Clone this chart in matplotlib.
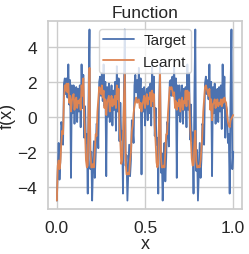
import numpy as np
import matplotlib
matplotlib.use("Agg")
import matplotlib.pyplot as plt
import seaborn as sns

# sampling grid of the function
x = np.linspace(0.0, 1.0, 201)

target_p1 = [-4.8, -3.0, -1.5, -3.6, -2.4, -0.3, -0.6, -1.6, 1.9, 2.2,
             1.3, 2.2, 1.1, 3.0, 0.7, 2.1, -3.5, 1.8, 0.2, 1.8,
             -0.4, 1.2, 1.7, -0.3, 1.6, 0.3, 1.8, -0.6, 3.0, 0.5,
             2.4, -1.2, 0.6, -1.5, -1.0, -4.4, 1.5, 5.0, -3.0, -2.0]
target_p2 = [-4.8, -2.8, -1.4, -3.5, -2.2, -0.4, -0.5, -1.8, 2.0, 2.3,
             1.2, 2.5, 0.9, 3.0, 0.6, 2.0, -3.4, 1.7, 0.0, 1.9,
             -0.3, 1.0, 1.8, -0.5, 1.5, 0.4, 2.0, -0.8, 2.9, 0.3,
             2.2, -1.4, 0.8, -1.3, -0.8, -4.4, 1.2, 5.0, -2.8, -2.2]
target_p3 = [-4.8, -3.2, -1.6, -3.4, -2.5, -0.2, -0.7, -1.5, 1.8, 2.4,
             1.4, 2.1, 1.0, 2.8, 0.8, 2.2, -3.3, 1.6, 0.3, 1.7,
             -0.5, 1.3, 1.6, -0.2, 1.7, 0.2, 1.9, -0.5, 3.0, 0.6,
             2.3, -1.1, 0.5, -1.6, -1.2, -4.4, 0.8, 3.0, -3.2, -2.1]
target_p4 = [-4.8, -2.9, -1.5, -3.7, -2.3, -0.3, -0.5, -1.7, 2.0, 2.1,
             1.2, 2.3, 1.2, 2.9, 0.6, 2.2, -3.5, 1.8, 0.1, 1.8,
             -0.3, 1.1, 1.8, -0.4, 1.6, 0.4, 1.7, -0.6, 3.0, 0.4,
             2.5, -1.3, 0.7, -1.4, -0.9, -4.4, 1.4, 5.0, -3.1, -1.9]
target_p5 = [-4.8, -3.1, -1.5, -3.5, -2.4, -0.4, -0.6, -1.6, 1.9, 2.3,
             1.3, 2.1, 1.0, 3.0, 0.7, 2.0, -3.4, 1.7, 0.2, 1.9,
             -0.4, 1.2, 1.6, -0.3, 1.7, 0.3, 1.8, -0.7, 3.0, 0.5,
             2.3, -1.2, 0.6, 0.4, -1.5, -1.0, -4.4, 1.5, 5.0, -3.0,
             -2.0]

learnt_p1 = [-4.8, -2.8, -2.5, -3.0, -2.6, -1.5, -0.8, -1.0, 1.0, 1.8,
             1.5, 1.9, 1.4, 1.9, 0.8, 1.2, 0.3, 0.9, 1.2, 1.3,
             0.4, 0.9, 1.1, 0.5, 0.9, 0.8, 1.0, 0.4, 1.8, 1.2,
             2.2, 0.0, -1.0, -2.5, -2.9, -2.8, 0.5, 2.8, -2.0, -2.9]
learnt_p2 = [-2.9, -2.7, -2.9, -2.0, -1.0, -1.1, 0.3, 1.0, 1.7, 1.6,
             1.3, 1.8, 1.1, 1.5, 0.5, 1.0, 0.1, 0.8, 1.0, 1.2,
             0.3, 0.8, 1.2, 0.6, 1.0, 0.7, 1.2, 0.5, 1.8, 1.0,
             1.6, -0.5, -1.5, -2.7, -2.5, -1.0, 0.8, 2.5, -2.5, -3.3]
learnt_p3 = [-3.3, -3.2, -3.3, -2.5, -2.0, -0.8, -0.5, 0.2, 0.6, 0.9,
             1.1, 0.8, 0.9, 1.0, 0.5, 0.8, 0.3, 0.7, 0.9, 1.2,
             0.5, 1.0, 1.3, 0.7, 1.1, 1.0, 1.4, 0.6, 1.5, 0.9,
             1.3, -0.6, -1.5, -2.6, -2.9, -2.7, 0.5, 2.5, -2.3, -2.9]
learnt_p4 = [-2.9, -2.8, -2.9, -2.0, -1.0, -1.0, 0.2, 1.0, 1.7, 1.6,
             1.7, 1.5, 1.2, 1.4, 0.5, 0.9, 0.4, 0.8, 0.6, 1.0,
             0.3, 0.7, 1.1, 0.4, 0.9, 0.8, 1.5, 0.6, 1.5, 1.0,
             1.4, -0.4, -1.3, -2.4, -2.8, -2.7, -1.5, -0.8, -2.5, -2.9]
learnt_p5 = [-2.9, -2.8, -2.9, -2.5, -1.8, -1.0, 0.3, 1.0, 1.7, 1.8,
             1.6, 1.4, 1.2, 1.6, 0.4, 1.0, -0.2, 0.7, 0.8, 1.0,
             0.5, 0.7, 1.0, 0.6, 0.8, 0.7, 1.0, 0.6, 1.0, 0.8,
             1.1, 0.9, 0.8, 0.2, -0.3, -0.5, -0.6, -0.2, -0.1, 0.0,
             0.1]

target = np.array(target_p1 + target_p2 + target_p3 + target_p4 + target_p5)
learnt = np.array(learnt_p1 + learnt_p2 + learnt_p3 + learnt_p4 + learnt_p5)

title = "Function"
xlabel = "x"
ylabel = "f(x)"
labels = ["Target", "Learnt"]

sns.set_theme(style="whitegrid")
plt.rcParams["font.family"] = ["Liberation Sans", "DejaVu Sans"]

fig = plt.figure(figsize=(2.49, 2.55), dpi=100)
ax = fig.add_axes([0.193, 0.176, 0.779, 0.738])
ax.plot(x, target, color="#4c72b0", lw=1.3, label=labels[0])
ax.plot(x, learnt, color="#dd8452", lw=1.3, label=labels[1])
ax.set_title(title, fontsize=12.5, pad=3)
ax.set_xlabel(xlabel, fontsize=13, labelpad=0)
ax.set_ylabel(ylabel, fontsize=13, labelpad=1)
ax.set_xticks([0.0, 0.5, 1.0])
ax.set_yticks([-4, -2, 0, 2, 4])
ax.tick_params(labelsize=12.5, pad=2)
ax.legend(loc="upper center", fontsize=11, borderpad=0.3, handletextpad=0.6)
fig.savefig("out.png", dpi=100)
